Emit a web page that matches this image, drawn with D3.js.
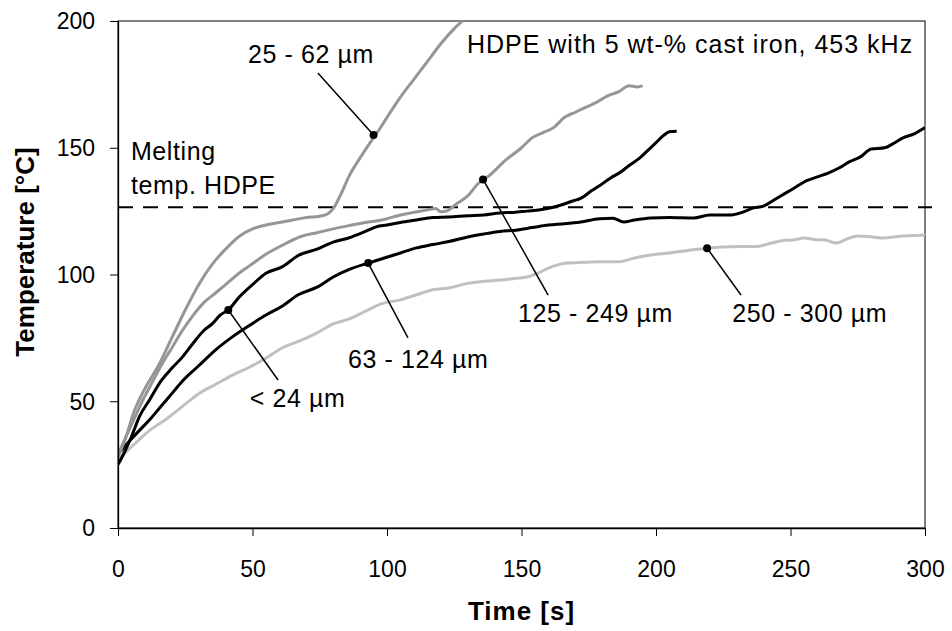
<!DOCTYPE html>
<html>
<head>
<meta charset="utf-8">
<script src="https://cdn.jsdelivr.net/npm/d3@7/dist/d3.min.js"></script>
<style>
  body { margin: 0; background: #fff; }
  text { font-family: "Liberation Sans", Arial, sans-serif; fill: #000; }
</style>
</head>
<body>
<div id="chart"></div>
<script>
// time [s], temperature [°C] pairs
const s25_62 = [[0,28],[3,36],[6,46],[10,55],[15,64],[20,75],[25,86],[30,96],[35,104],[40,110],[45,115],[50,118],[55,119.5],[60,120.5],[65,121.5],[70,122.5],[75,123],[78,124],[80,126],[83,132],[86,139],[90,146],[95,154],[97,157],[100,162],[105,170],[110,177],[115,184],[120,191],[125,197],[128,200]];
const s125_249 = [[0,29],[3,36],[6,43],[9,50],[12,56],[16,64],[20,71],[24,78],[28,84],[32,89],[36,92.5],[40,96],[45,100.5],[49,103.5],[55,108],[61,111.5],[68,115],[74,116.5],[80,118],[86,119.3],[92,120.5],[98,121.5],[105,123.5],[110,124.5],[115,125.5],[118,126],[120,124.8],[122,125],[126,128],[130,131],[134,136],[138,139],[144,145],[150,150],[154,154],[158,156],[162,158],[166,162],[170,164],[174,166],[178,168],[182,170.5],[186,172],[190,174.5],[193,174],[195,174.5]];
const sBelow24 = [[0,25],[2,29],[5,36],[8,44],[12,51],[16,58],[20,63],[24,67.5],[28,73],[32,78],[35,80.5],[38,84],[41,86],[45,91],[50,96],[55,100.5],[61,103],[67,107.5],[74,110],[80,112.8],[86,114.5],[92,117],[96,118.8],[100,119.5],[105,120.5],[111,121.5],[117,122.5],[123,122.7],[130,123.2],[136,123.5],[142,124.3],[147,124.5],[152,125],[157,125.5],[161,126.3],[165,127.5],[169,129],[172,130],[176,133],[179,135],[183,138],[187,140.5],[190,143],[194,146],[197,149],[200,152],[203,155],[205,156.3],[207.7,156.5]];
const s63_124 = [[0,29],[4,34],[8,38.5],[12,43],[16,48],[20,53],[24,58],[30,64],[36,70],[42,75],[49,80],[55,84],[61,87.5],[67,92],[74,95],[80,99],[86,102],[93,104.5],[99,106.5],[105,108.5],[111,110.5],[117,111.8],[123,113],[130,114.8],[136,116],[142,117],[148,117.5],[154,118.5],[160,119.5],[166,120],[172,120.7],[179,122],[184,122.2],[188,120.7],[192,121.5],[198,122.3],[205,122.5],[214,122.3],[220,123.5],[228,123.5],[232,124.5],[236,126.2],[240,127],[244,129.5],[248,132],[252,134.5],[256,137],[260,138.5],[264,140],[268,142],[272,144.5],[276,146.4],[280,149.5],[285,150],[288,151.5],[292,154],[296,155.5],[300,158]];
const s250_300 = [[0,27],[4,31],[8,35],[12,38.7],[18,43],[24,48],[30,53],[36,56.5],[42,60],[49,63.5],[55,67],[61,71],[68,74],[74,77],[80,80.5],[86,82.5],[92,85.5],[98,88.5],[105,90],[111,92],[117,94],[123,94.7],[130,96.5],[136,97.3],[142,97.8],[148,98.5],[152,99],[156,100.5],[160,102.5],[167,104.5],[173,104.8],[179,105],[186,105],[192,106.5],[198,107.7],[205,108.5],[212,109.5],[219,110.4],[225,110.8],[231,111],[237,111],[243,112.4],[248,113.5],[251,113.6],[255,114.4],[259,113.8],[263,113.6],[267,112.4],[271,114],[275,115.2],[279,115],[284,114.4],[290,115],[295,115.4],[300,115.6]];

const meltingTemp = 126.5;
const xTicks = [0, 50, 100, 150, 200, 250, 300];
const yTicks = [0, 50, 100, 150, 200];

// label, dot [t,T], leader end [t,T], text anchor [t,T]
const labelNames = ["25 - 62 µm", "125 - 249 µm", "250 - 300 µm", "63 - 124 µm", "< 24 µm"];
const labelDots = [[95,155],[135.7,137.5],[219,110.4],[93,104.5],[41,86]];
const labelEnds = [[74.3,179.5],[159.9,91.9],[231.6,91.9],[107.8,75],[59.5,58.4]];
const labelPos = [[48.3,183.4],[148.7,81.3],[228.3,81.3],[85.5,63.1],[49,47.7]];

const margin = { top: 21, right: 27, bottom: 103, left: 118 };
const W = 952, H = 631;
const width = W - margin.left - margin.right;
const height = H - margin.top - margin.bottom;

const svg = d3.select("#chart").append("svg")
  .attr("width", W).attr("height", H);
const g = svg.append("g")
  .attr("transform", `translate(${margin.left},${margin.top})`);

const x = d3.scaleLinear().domain([0, 300]).range([0, width]);
const y = d3.scaleLinear().domain([0, 200]).range([height, 0]);

g.append("clipPath").attr("id", "clip")
  .append("rect").attr("x", 0).attr("y", -1).attr("width", width).attr("height", height + 1);

// frame
g.append("rect")
  .attr("width", width).attr("height", height)
  .attr("fill", "none").attr("stroke", "#000").attr("stroke-width", 1);

// melting temperature line
g.append("line")
  .attr("x1", 0).attr("x2", width + 7)
  .attr("y1", y(meltingTemp)).attr("y2", y(meltingTemp))
  .attr("stroke", "#000").attr("stroke-width", 2)
  .attr("stroke-dasharray", "15,10");

const line = d3.line().curve(d3.curveMonotoneX).x(d => x(d[0])).y(d => y(d[1]));

const series = [
  { data: s250_300, color: "#c0c0c0" },
  { data: s63_124, color: "#000" },
  { data: sBelow24, color: "#000" },
  { data: s125_249, color: "#969696" },
  { data: s25_62, color: "#969696" }
];

g.append("g").attr("clip-path", "url(#clip)")
  .selectAll("path").data(series).join("path")
  .attr("d", d => line(d.data))
  .attr("fill", "none")
  .attr("stroke", d => d.color)
  .attr("stroke-width", 3)
  .attr("stroke-linejoin", "round");

// axes
const xAxis = g.append("g")
  .attr("transform", `translate(0,${height})`)
  .call(d3.axisBottom(x).tickValues(xTicks).tickSize(8).tickSizeOuter(0));
xAxis.selectAll("text")
  .attr("y", 49).attr("dy", null)
  .style("font-size", "23px");

const yAxis = g.append("g")
  .call(d3.axisLeft(y).tickValues(yTicks).tickSize(8).tickSizeOuter(0));
yAxis.selectAll("text")
  .attr("x", -23).attr("dy", "0.34em")
  .style("font-size", "23px");

[xAxis, yAxis].forEach(a => {
  a.select(".domain").attr("stroke", "#000").attr("stroke-width", 1.3);
  a.selectAll(".tick line").attr("stroke", "#000").attr("stroke-width", 1);
  a.selectAll("text").attr("font-family", null).attr("fill", "#000");
});

svg.append("text")
  .attr("x", margin.left + width / 2).attr("y", 620)
  .attr("text-anchor", "middle")
  .style("font-size", "26px").style("font-weight", "bold").style("letter-spacing", "1px")
  .text("Time [s]");

svg.append("text")
  .attr("transform", "rotate(-90)")
  .attr("x", -252).attr("y", 34)
  .attr("text-anchor", "middle")
  .style("font-size", "26px").style("font-weight", "bold")
  .text("Temperature [°C]");

// annotations
const ann = g.append("g");
labelNames.forEach((name, i) => {
  ann.append("line")
    .attr("x1", x(labelDots[i][0])).attr("y1", y(labelDots[i][1]))
    .attr("x2", x(labelEnds[i][0])).attr("y2", y(labelEnds[i][1]))
    .attr("stroke", "#000").attr("stroke-width", 1.5);
  ann.append("circle")
    .attr("cx", x(labelDots[i][0])).attr("cy", y(labelDots[i][1]))
    .attr("r", 4).attr("fill", "#000");
  ann.append("text")
    .attr("x", x(labelPos[i][0])).attr("y", y(labelPos[i][1]))
    .style("font-size", "25px").style("letter-spacing", "0.6px")
    .text(name);
});

const melt = ann.append("text")
  .attr("x", x(4.8)).attr("y", y(145.2))
  .style("font-size", "25px").style("letter-spacing", "0.6px");
melt.append("tspan").attr("x", x(4.8)).text("Melting");
melt.append("tspan").attr("x", x(4.8)).attr("y", y(131.8)).text("temp. HDPE");

ann.append("text")
  .attr("x", x(129.7)).attr("y", y(187.4))
  .style("font-size", "25px").style("letter-spacing", "1px")
  .text("HDPE with 5 wt-% cast iron, 453 kHz");
</script>
</body>
</html>
